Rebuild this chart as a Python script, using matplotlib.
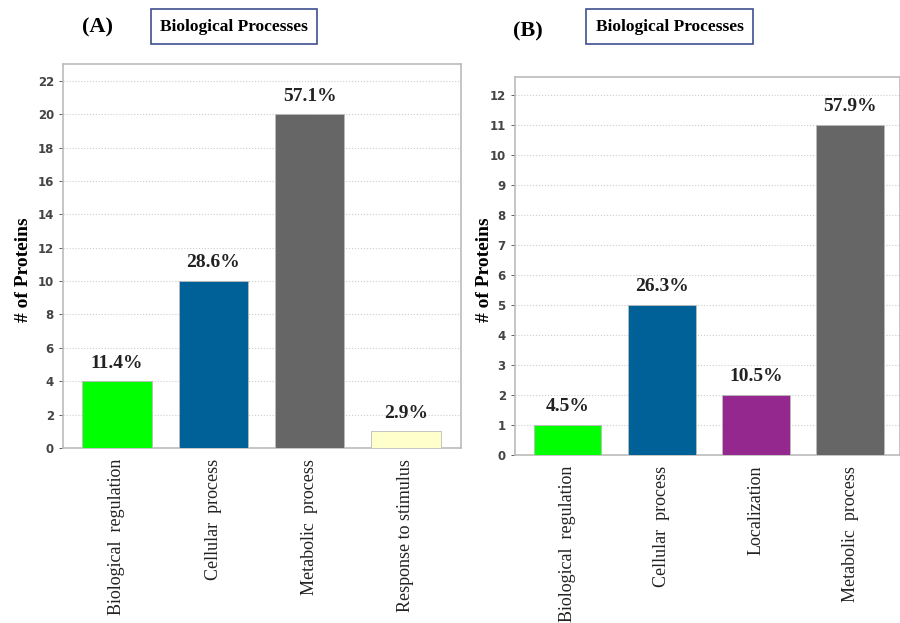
import matplotlib.pyplot as plt

# Panel A
cats_a = ['Biological  regulation', 'Cellular  process', 'Metabolic  process', 'Response to stimulus']
counts_a = [4, 10, 20, 1]
pct_a = ['11.4%', '28.6%', '57.1%', '2.9%']
colors_a = ['#00ff00', '#006199', '#666666', '#ffffcc']

# Panel B
cats_b = ['Biological  regulation', 'Cellular  process', 'Localization', 'Metabolic  process']
counts_b = [1, 5, 2, 11]
pct_b = ['4.5%', '26.3%', '10.5%', '57.9%']
colors_b = ['#00ff00', '#006199', '#94288f', '#666666']

serif = 'Liberation Serif'

fig = plt.figure(figsize=(9, 6.23), dpi=100)
ax1 = fig.add_axes([0.070, 0.281, 0.442, 0.616])
ax2 = fig.add_axes([0.572, 0.270, 0.428, 0.607])


def draw(ax, cats, counts, pct, colors, ymax, ystep, ytop, xr, letter, lx, ly, bx, by, ylx):
    x = range(len(cats))
    ax.bar(x, counts, width=0.72, color=colors, edgecolor='#bbbbbb', linewidth=0.6, zorder=3)
    for xi, c, p in zip(x, counts, pct):
        ax.text(xi, c + ytop * 0.025, p, ha='center', va='bottom', fontsize=14,
                fontweight='bold', family=serif, color='#222222')
    ax.set_ylim(0, ytop)
    ax.set_xlim(-0.56, xr)
    ax.set_yticks(range(0, ymax + 1, ystep))
    ax.tick_params(axis='y', labelsize=8.5, colors='#444444', length=3, width=0.6)
    for t in ax.get_yticklabels():
        t.set_fontweight('bold')
    ax.set_xticks(list(x))
    ax.set_xticklabels(cats, rotation=90, fontsize=13, family=serif, color='#222222')
    ax.tick_params(axis='x', length=0, pad=8)
    ax.grid(axis='y', linestyle=':', color='#cccccc', linewidth=0.8, zorder=0)
    for s in ax.spines.values():
        s.set_color('#bbbbbb')
        s.set_linewidth(1.2)
    ax.set_ylabel('# of Proteins', fontsize=14, fontweight='bold', family=serif)
    ax.yaxis.set_label_coords(ylx, 0.567, transform=fig.transFigure)
    fig.text(lx, ly, letter, fontsize=16, fontweight='bold', family=serif,
             ha='center', va='center')
    fig.text(bx, by, 'Biological Processes', fontsize=12.5, fontweight='bold', family=serif,
             ha='center', va='center',
             bbox=dict(boxstyle='square,pad=0.55', facecolor='white', edgecolor='#3f4f8f',
                       linewidth=1.2))


draw(ax1, cats_a, counts_a, pct_a, colors_a, 22, 2, 23, 3.57, '(A)', 0.108, 0.956,
     0.26, 0.957, 0.036)
draw(ax2, cats_b, counts_b, pct_b, colors_b, 12, 1, 12.6, 3.53, '(B)', 0.586, 0.950,
     0.744, 0.957, 0.548)

fig.savefig('out.png', dpi=100)
